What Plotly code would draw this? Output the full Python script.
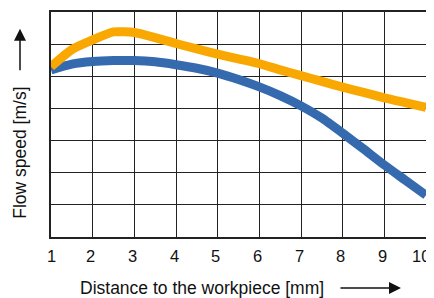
import plotly.graph_objects as go

distance_mm = [1, 1.5, 2, 2.5, 3, 3.5, 4, 4.5, 5, 5.5, 6, 6.5, 7, 7.5, 8, 8.5, 9, 9.5, 10]
flow_orange = [5.3, 5.83, 6.13, 6.38, 6.36, 6.2, 6.02, 5.85, 5.69, 5.54, 5.39, 5.2, 5.02, 4.84, 4.66, 4.5, 4.33, 4.18, 4.03]
flow_blue = [5.2, 5.38, 5.46, 5.49, 5.49, 5.45, 5.36, 5.25, 5.1, 4.9, 4.67, 4.4, 4.08, 3.7, 3.23, 2.74, 2.24, 1.77, 1.3]
x_ticks = [1, 2, 3, 4, 5, 6, 7, 8, 9, 10]
y_grid = [0, 1, 2, 3, 4, 5, 6, 7]

FONT = "Liberation Sans, Arial, Helvetica, sans-serif"

fig = go.Figure()
fig.add_trace(go.Scatter(x=distance_mm, y=flow_blue, mode="lines",
                         line=dict(color="#356BAE", width=9, shape="spline", smoothing=0.6),
                         hoverinfo="skip", showlegend=False))
fig.add_trace(go.Scatter(x=distance_mm, y=flow_orange, mode="lines",
                         line=dict(color="#F8A800", width=9, shape="spline", smoothing=0.6),
                         hoverinfo="skip", showlegend=False))

# page has an 8px body margin: figure occupies (8..434, 8..298)
OFF = 8
W, H = 434 - OFF, 298 - OFF
ml, mr, mt, mb = 51 - OFF, 8, 10 - OFF, 61
pw, ph = W - ml - mr, H - mt - mb

def px2paper(px, py):
    # px, py given in page (screenshot) pixels
    return (px - OFF - ml) / pw, (H - mb - (py - OFF)) / ph

fig.update_layout(
    width=W, height=H,
    margin=dict(l=ml, r=mr, t=mt, b=mb),
    paper_bgcolor="white", plot_bgcolor="white",
    font=dict(family=FONT, color="#111"),
    xaxis=dict(range=[1, 10], tickvals=x_ticks, showticklabels=False,
               showgrid=True, gridcolor="#222", gridwidth=1,
               showline=True, linecolor="#222", linewidth=1.5, mirror=True,
               zeroline=False, ticks=""),
    yaxis=dict(range=[0, 7], tickvals=y_grid, showticklabels=False,
               showgrid=True, gridcolor="#222", gridwidth=1,
               showline=True, linecolor="#222", linewidth=1.5, mirror=True,
               zeroline=False, ticks=""),
)

# x tick labels (drawn as annotations so the rightmost one is not clipped)
_, ty = px2paper(0, 256)
for v in x_ticks:
    fig.add_annotation(text=str(v), xref="x", yref="paper", x=v, y=ty,
                       showarrow=False, xanchor="center", yanchor="middle",
                       xshift=-5 if v == 10 else (-2 if v > 1 else 0),
                       font=dict(size=16.5, family=FONT, color="#111"))

xt, yt = px2paper(202, 288.5)
fig.add_annotation(text="Distance to the workpiece [mm]", xref="paper", yref="paper",
                   x=xt, y=yt, showarrow=False, xanchor="center", yanchor="middle",
                   font=dict(size=17.5, family=FONT, color="#111"))
xt, yt = px2paper(20, 152)
fig.add_annotation(text="Flow speed [m/s]", xref="paper", yref="paper",
                   x=xt, y=yt, showarrow=False, textangle=-90, xanchor="center", yanchor="middle",
                   font=dict(size=17.5, family=FONT, color="#111"))

# horizontal arrow
ax_, ay_ = px2paper(401, 288.5)
fig.add_annotation(text="", xref="paper", yref="paper", x=ax_, y=ay_,
                   ax=-62, ay=0, showarrow=True, arrowhead=2, arrowsize=1.6,
                   arrowwidth=1.5, arrowcolor="#111")
# vertical arrow
ax_, ay_ = px2paper(20, 27)
fig.add_annotation(text="", xref="paper", yref="paper", x=ax_, y=ay_,
                   ax=0, ay=43, showarrow=True, arrowhead=2, arrowsize=1.6,
                   arrowwidth=1.5, arrowcolor="#111")

fig.write_html("out.html")
